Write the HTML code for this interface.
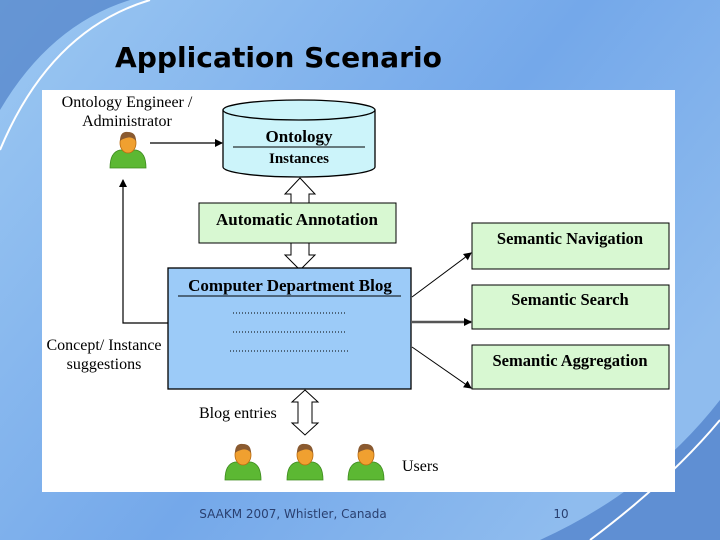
<!DOCTYPE html>
<html><head><meta charset="utf-8"><style>
html,body{margin:0;padding:0;width:720px;height:540px;overflow:hidden}
svg{display:block}
</style></head><body>
<svg width="720" height="540" viewBox="0 0 720 540" xmlns="http://www.w3.org/2000/svg">
<defs>
<linearGradient id="bg" x1="0" y1="0" x2="1" y2="0.6">
<stop offset="0" stop-color="#9cc8f2"/><stop offset="0.6" stop-color="#74a8ea"/><stop offset="1" stop-color="#8fbcee"/>
</linearGradient>
<marker id="ah" markerWidth="8" markerHeight="8" refX="7" refY="4" orient="auto" markerUnits="userSpaceOnUse">
<path d="M0,0 L8,4 L0,8 z" fill="#000"/></marker>
<g id="person">
<path d="M-18,18 Q-18,2 -8,0 L8,0 Q18,2 18,18 z" fill="#5cb833" stroke="#3d8a1e" stroke-width="0.8"/>
<ellipse cx="0" cy="-7" rx="8" ry="10" fill="#f0a030" stroke="#b86a10" stroke-width="0.8"/>
<path d="M-8,-9 Q-8,-19 0,-18 Q8,-18 8,-9 Q4,-14 -2,-12 Q-6,-11 -8,-9z" fill="#8a5a30"/>
</g>
</defs>
<rect width="720" height="540" fill="url(#bg)"/>
<path d="M0,110 Q50,25 130,0 L0,0z" fill="#4f80c8" opacity="0.7"/>
<path d="M0,150 Q50,30 150,0" stroke="#fff" stroke-width="2" fill="none"/>
<path d="M540,540 Q650,490 720,400 L720,540z" fill="#4a7cc8" opacity="0.7"/>
<path d="M590,540 Q670,480 720,420" stroke="#fff" stroke-width="2" fill="none"/>
<text x="115" y="67" font-family="DejaVu Sans, sans-serif" font-weight="bold" font-size="28" textLength="327" lengthAdjust="spacingAndGlyphs" fill="#000">Application Scenario</text>
<rect x="42" y="90" width="633" height="402" fill="#fff"/>
<g font-family="Liberation Serif, serif" font-size="16" fill="#000">
<text x="127" y="107" text-anchor="middle">Ontology Engineer /</text>
<text x="127" y="126" text-anchor="middle">Administrator</text>
<use href="#person" x="128" y="150"/>
<line x1="150" y1="143" x2="222" y2="143" stroke="#000" stroke-width="1.2" marker-end="url(#ah)"/>
<path d="M223,110 L223,167 A76,10 0 0 0 375,167 L375,110" fill="#ccf4fa" stroke="#000" stroke-width="1.3"/>
<ellipse cx="299" cy="110" rx="76" ry="10" fill="#ccf4fa" stroke="#000" stroke-width="1.3"/>
<line x1="233" y1="147" x2="365" y2="147" stroke="#000" stroke-width="1"/>
<text x="299" y="142" text-anchor="middle" font-weight="bold" font-size="17">Ontology</text>
<text x="299" y="163" text-anchor="middle" font-weight="bold" font-size="15">Instances</text>
<path d="M300,178 L315,194 L309,194 L309,203 L291,203 L291,194 L285,194z" fill="#fff" stroke="#000"/>
<path d="M291,243 L309,243 L309,255 L315,255 L300,270 L285,255 L291,255z" fill="#fff" stroke="#000"/>
<rect x="199" y="203" width="197" height="40" fill="#d8f8d2" stroke="#000" stroke-width="1"/>
<text x="297" y="225" text-anchor="middle" font-weight="bold" font-size="17">Automatic Annotation</text>
<rect x="168" y="268" width="243" height="121" fill="#9ccbf8" stroke="#000" stroke-width="1.3"/>
<text x="290" y="291" text-anchor="middle" font-weight="bold" font-size="17">Computer Department Blog</text>
<line x1="178" y1="296" x2="401" y2="296" stroke="#000"/>
<g stroke="#000" stroke-width="1" stroke-dasharray="1,2">
<line x1="233" y1="313" x2="347" y2="313"/><line x1="233" y1="332" x2="347" y2="332"/><line x1="230" y1="351" x2="350" y2="351"/>
</g>
<path d="M168,323 L123,323 L123,180" fill="none" stroke="#000" stroke-width="1.2" marker-end="url(#ah)"/>
<text x="104" y="350" text-anchor="middle">Concept/ Instance</text>
<text x="104" y="369" text-anchor="middle">suggestions</text>
<rect x="472" y="223" width="197" height="46" fill="#d8f8d2" stroke="#000" stroke-width="1"/>
<rect x="472" y="285" width="197" height="44" fill="#d8f8d2" stroke="#000" stroke-width="1"/>
<rect x="472" y="345" width="197" height="44" fill="#d8f8d2" stroke="#000" stroke-width="1"/>
<text x="570" y="244" text-anchor="middle" font-weight="bold" font-size="16.5">Semantic Navigation</text>
<text x="570" y="305" text-anchor="middle" font-weight="bold" font-size="16.5">Semantic Search</text>
<text x="570" y="366" text-anchor="middle" font-weight="bold" font-size="16.5">Semantic Aggregation</text>
<line x1="412" y1="297" x2="471" y2="253" stroke="#000" stroke-width="1" marker-end="url(#ah)"/>
<line x1="412" y1="322" x2="471" y2="322" stroke="#555" stroke-width="2.5" marker-end="url(#ah)"/>
<line x1="412" y1="347" x2="471" y2="388" stroke="#000" stroke-width="1" marker-end="url(#ah)"/>
<path d="M305,390 L318,402 L312,402 L312,423 L318,423 L305,435 L292,423 L298,423 L298,402 L292,402z" fill="#fff" stroke="#000"/>
<text x="199" y="418">Blog entries</text>
<use href="#person" x="243" y="462"/>
<use href="#person" x="305" y="462"/>
<use href="#person" x="366" y="462"/>
<text x="402" y="471">Users</text>
</g>
<text x="293" y="518" text-anchor="middle" font-family="DejaVu Sans, sans-serif" font-size="12" fill="#2a4070">SAAKM 2007, Whistler, Canada</text>
<text x="561" y="518" text-anchor="middle" font-family="DejaVu Sans, sans-serif" font-size="12" fill="#2a4070">10</text>
</svg>
</body></html>
